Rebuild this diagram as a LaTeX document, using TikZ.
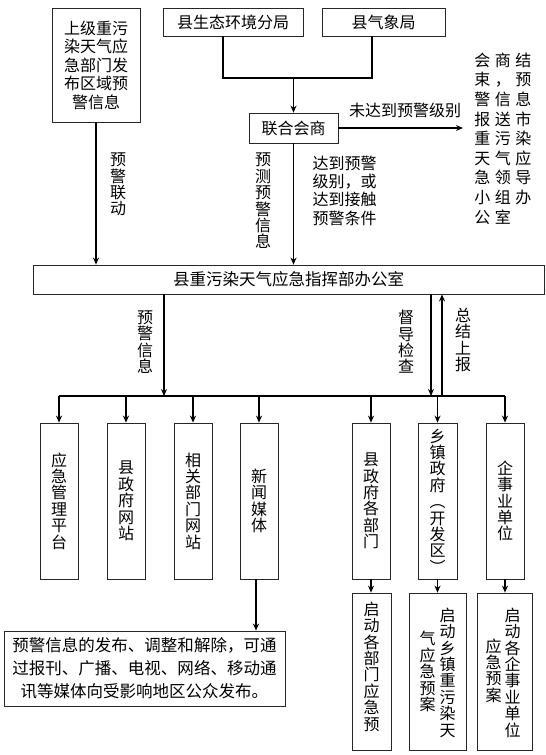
\documentclass[tikz,border=0pt]{standalone}
\usepackage{fontspec}
\newfontfamily\cjk{Noto Sans CJK SC}
\usetikzlibrary{arrows.meta,calc}
\newcommand{\rowc}[3]{\makebox[20.5pt]{#1}\makebox[20.5pt]{#2}\makebox[20.5pt]{#3}}
\begin{document}
\begin{tikzpicture}[x=1pt,y=-1pt,
  box/.style={draw=black!85,line width=0.8pt,inner sep=0pt},
  conn/.style={line width=1.3pt,-{Stealth[length=7pt,width=6pt]}},
  plain/.style={line width=1.3pt},
  every node/.style={font=\cjk\fontsize{16}{18.5}\selectfont},
  vt/.style={align=center,inner sep=0pt,font=\cjk\fontsize{16}{16.4}\selectfont},
]
\useasboundingbox (0,0) rectangle (546,755);
% top row
\node[box,minimum width=88,minimum height=114,align=center] (up) at (96,65)
  {上级重污\\染天气应\\急部门发\\布区域预\\警信息};
\node[box,minimum width=140,minimum height=28] (eco) at (233,22) {县生态环境分局};
\node[box,minimum width=123,minimum height=28] (met) at (383.5,22) {县气象局};
\node[box,minimum width=89,minimum height=30] (joint) at (293.5,128) {联合会商};
\node[anchor=west,inner xsep=9,inner ysep=0,align=left,font=\cjk\fontsize{16}{19.6}\selectfont] (rt) at (463,138.5)
  {\rowc{会}{商}{结}\\\rowc{束}{，}{预}\\\rowc{警}{信}{息}\\\rowc{报}{送}{市}\\\rowc{重}{污}{染}\\\rowc{天}{气}{应}\\\rowc{急}{领}{导}\\\rowc{小}{组}{办}\\\rowc{公}{室}{}};
% merge
\coordinate (eL) at ($(eco.south)+(-10,0)$);
\coordinate (eR) at ($(met.south)+(-11.5,0)$);
\coordinate (mL) at (223,78);
\coordinate (mR) at (372,78);
\draw[plain] (eL) -- (mL) -- (mR) -- (eR);
\draw[conn] (joint.north |- mL) -- (joint.north);
\draw[conn] (joint.east) -- (joint.east -| rt.west);
\node[inner sep=0] (lno) at (405,110) {未达到预警级别};
% main
\node[box,minimum width=511,minimum height=29,font=\cjk\fontsize{16.5}{18}\selectfont] (main) at (288.5,279.5) {县重污染天气应急指挥部办公室};
\draw[conn] (up.south) -- (up.south |- main.north);
\draw[conn] (joint.south) -- (joint.south |- main.north);
\node[vt] (l1) at (118,184.5) {预\\警\\联\\动};
\node[vt] (l2) at (263,201) {预\\测\\预\\警\\信\\息};
\node[align=left,inner sep=0,font=\cjk\fontsize{16}{18.3}\selectfont] (l3) at (344.5,190.5) {达到预警\\级别，或\\达到接触\\预警条件};
% row boxes
\node[box,vt,minimum width=38,minimum height=156] (b1) at (59,501) {应\\急\\管\\理\\平\\台};
\node[box,vt,minimum width=38,minimum height=156] (b2) at (126,501) {县\\政\\府\\网\\站};
\node[box,vt,minimum width=38,minimum height=156] (b3) at (193,501) {相\\关\\部\\门\\网\\站};
\node[box,vt,minimum width=38,minimum height=156] (b4) at (259,501) {新\\闻\\媒\\体};
\node[box,vt,minimum width=38,minimum height=156] (b5) at (371,501) {县\\政\\府\\各\\部\\门};
\node[box,vt,minimum width=39,minimum height=156] (b6) at (437.5,501) {乡\\镇\\政\\府\\︵\\开\\发\\区\\︶};
\node[box,vt,minimum width=38,minimum height=156] (b7) at (505,501) {企\\事\\业\\单\\位};
% bus
\coordinate (busL) at (59,396);
\coordinate (busR) at (505,396);
\draw[plain] (busL) -- (busR);
\foreach \b in {b1,b2,b3,b4,b5,b6,b7} {\draw[conn] (\b.north |- busL) -- (\b.north);}
\coordinate (dA) at (164,0);
\coordinate (dB) at (431,0);
\coordinate (uC) at (442,0);
\draw[conn] (dA |- main.south) -- (dA |- busL);
\draw[conn] (dB |- main.south) -- (dB |- busL);
\draw[conn] (uC |- busL) -- (uC |- main.south);
\node[vt] (l4) at (145,342) {预\\警\\信\\息};
\node[vt] (l5) at (406,342) {督\\导\\检\\查};
\node[vt] (l6) at (463,340) {总\\结\\上\\报};
% bottom
\node[box,align=center,minimum width=281,minimum height=75,font=\cjk\fontsize{16.5}{23}\selectfont] (tb) at (144.5,668.5)
  {预警信息的发布、调整和解除，可通\\过报刊、广播、电视、网络、移动通\\讯等媒体向受影响地区公众发布。};
\coordinate (b4d) at ($(b4.south)+(-3,0)$);
\draw[conn] (b4d) -- (b4d |- tb.north);
\node[box,minimum width=39,minimum height=157] (c1) at (371.5,671.5) {};
\node[box,minimum width=57,minimum height=157] (c2) at (437.5,671.5) {};
\node[box,minimum width=55,minimum height=157] (c3) at (504.5,671.5) {};
\node[vt] (c1t) at ($(c1.center)+(0,-5)$) {启\\动\\各\\部\\门\\应\\急\\预};
\node[vt] (c2r) at ($(c2.center)+(10,1)$) {启\\动\\乡\\镇\\重\\污\\染\\天};
\node[vt] (c2l) at ($(c2.center)+(-10,0)$) {气\\应\\急\\预\\案};
\node[vt] (c3r) at ($(c3.center)+(8,1)$) {启\\动\\各\\企\\事\\业\\单\\位};
\node[vt] (c3l) at ($(c3.center)+(-11,-1)$) {应\\急\\预\\案};
\draw[conn] (b5.south) -- (b5.south |- c1.north);
\draw[conn] (b6.south) -- (b6.south |- c2.north);
\draw[conn] (b7.south) -- (b7.south |- c3.north);
\end{tikzpicture}
\end{document}
